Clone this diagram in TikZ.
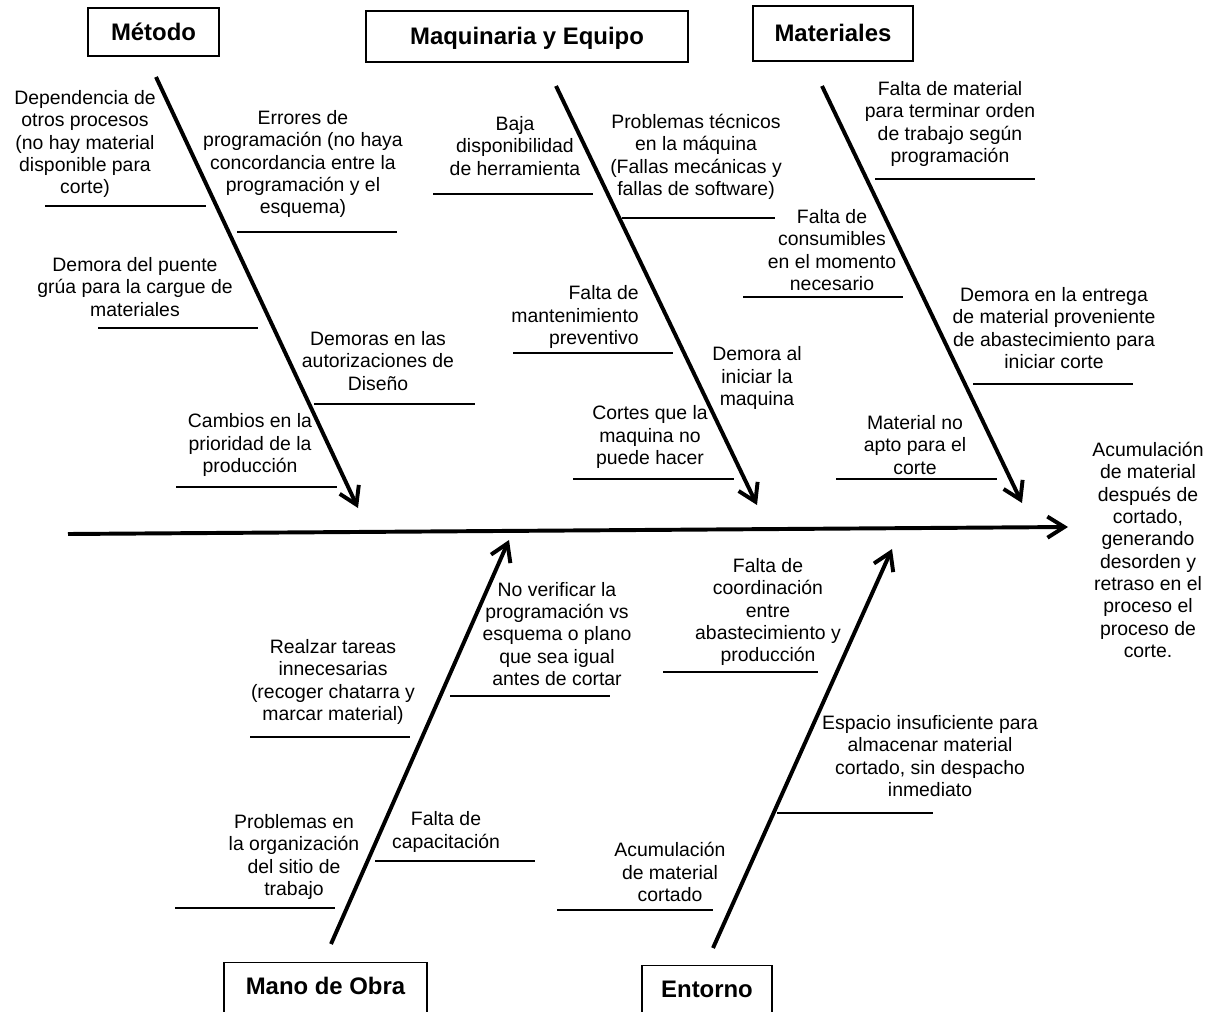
\documentclass[tikz,border=0pt]{standalone}
\usepackage{fontspec}
\setmainfont{Liberation Sans}
\usetikzlibrary{arrows.meta}

\tikzset{
hueso/.style={line width=2.8pt, -{Straight Barb[length=12pt,width=15pt]}},
raya/.style={line width=1pt},
causa/.style={align=center, inner sep=0pt, font=\fontsize{13.8}{15.9}\selectfont},
titulo/.style={draw, line width=1pt, inner sep=0pt, text height=12pt, text depth=0pt, font=\fontsize{17}{20}\selectfont\bfseries}
}

\begin{document}
\begin{tikzpicture}[x=0.025cm,y=-0.025cm]
\useasboundingbox (0,0) rectangle (1207,1011);

%%%%% Espina central
\coordinate (e0) at (68,534); \coordinate (e1) at (1068,527); \draw [hueso] (e0)--(e1);

\node [causa] (efecto) at (1148,550) {Acumulación\\de material\\después de\\cortado,\\generando\\desorden y\\retraso en el\\proceso el\\proceso de\\corte.};


%%%%% Metodo
\node [titulo, minimum width=3.275cm, minimum height=1.2cm] (metodo) at (153.5,32) {Método};
\coordinate (m0) at (156,77); \coordinate (m1) at (358,508); \draw [hueso] (m0)--(m1);

\node [causa] (mdep) at (85,144) {Dependencia de\\otros procesos\\(no hay material\\disponible para\\corte)}; \draw [raya] (45,206)--(206,206);
\node [causa] (merr) at (303,164) {Errores de\\programación (no haya\\concordancia entre la\\programación y el\\esquema)}; \draw [raya] (237,232)--(397,232);
\node [causa] (mgru) at (135,287) {Demora del puente\\grúa para la cargue de\\materiales}; \draw [raya] (98,328)--(258,328);
\node [causa] (maut) at (378,361) {Demoras en las\\autorizaciones de\\Diseño}; \draw [raya] (314,404)--(475,404);
\node [causa] (mpri) at (250,445) {Cambios en la\\prioridad de la\\producción}; \draw [raya] (176,487)--(337,487);


%%%%% Maquinaria y Equipo
\node [titulo, minimum width=8.05cm, minimum height=1.275cm] (maquinaria) at (527,36.5) {Maquinaria y Equipo};
\coordinate (q0) at (556,86); \coordinate (q1) at (757,505); \draw [hueso] (q0)--(q1);

\node [causa] (qbaj) at (515,146) {Baja\\disponibilidad\\de herramienta}; \draw [raya] (433,194)--(593,194);
\node [causa] (qtec) at (696,157) {Problemas técnicos\\en la máquina\\(Fallas mecánicas y\\fallas de software)}; \draw [raya] (622,218)--(775,218);
\node [causa] (qcon) at (832,250) {Falta de\\consumibles\\en el momento\\necesario}; \draw [raya] (743,297)--(903,297);
\node [causa, align=right, anchor=east] (qman) at (639,317) {Falta de\\mantenimiento\\preventivo}; \draw [raya] (513,353)--(673,353);
\node [causa] (qini) at (757,378) {Demora al\\iniciar la\\maquina};
\node [causa] (qcor) at (650,437) {Cortes que la\\maquina no\\puede hacer}; \draw [raya] (573,479)--(734,479);


%%%%% Materiales
\node [titulo, minimum width=4cm, minimum height=1.375cm] (materiales) at (833,33.5) {Materiales};
\coordinate (t0) at (822,86); \coordinate (t1) at (1022,503); \draw [hueso] (t0)--(t1);

\node [causa] (tfal) at (950,124) {Falta de material\\para terminar orden\\de trabajo según\\programación}; \draw [raya] (875,179)--(1035,179);
\node [causa] (tent) at (1054,328) {Demora en la entrega\\de material proveniente\\de abastecimiento para\\iniciar corte}; \draw [raya] (973,384)--(1133,384);
\node [causa] (tapt) at (915,445) {Material no\\apto para el\\corte}; \draw [raya] (836,479)--(997,479);


%%%%% Mano de Obra
\node [titulo, minimum width=5.075cm, anchor=north, text height=22.3pt, text depth=40pt] (mano) at (325.5,962) {Mano de Obra};
\coordinate (o0) at (331,944); \coordinate (o1) at (509,540); \draw [hueso] (o0)--(o1);

\node [causa] (over) at (557,634) {No verificar la\\programación vs\\esquema o plano\\que sea igual\\antes de cortar}; \draw [raya] (450,696)--(610,696);
\node [causa] (orea) at (333,682) {Realzar tareas\\innecesarias\\(recoger chatarra y\\marcar material)}; \draw [raya] (250,737)--(410,737);
\node [causa] (ocap) at (446,832) {Falta de\\capacitación}; \draw [raya] (375,861)--(535,861);
\node [causa] (oorg) at (294,857) {Problemas en\\la organización\\del sitio de\\trabajo}; \draw [raya] (175,908)--(335,908);


%%%%% Entorno
\node [titulo, minimum width=3.25cm, anchor=north, text height=22.3pt, text depth=40pt] (entorno) at (707,965) {Entorno};
\coordinate (n0) at (713,948); \coordinate (n1) at (892,549); \draw [hueso] (n0)--(n1);

\node [causa] (ncoo) at (768,612) {Falta de\\coordinación\\entre\\abastecimiento y\\producción}; \draw [raya] (663,672)--(818,672);
\node [causa] (nesp) at (930,756) {Espacio insuficiente para\\almacenar material\\cortado, sin despacho\\inmediato}; \draw [raya] (777,813)--(933,813);
\node [causa] (nacu) at (670,872) {Acumulación\\de material\\cortado}; \draw [raya] (557,910)--(713,910);

\end{tikzpicture}
\end{document}
